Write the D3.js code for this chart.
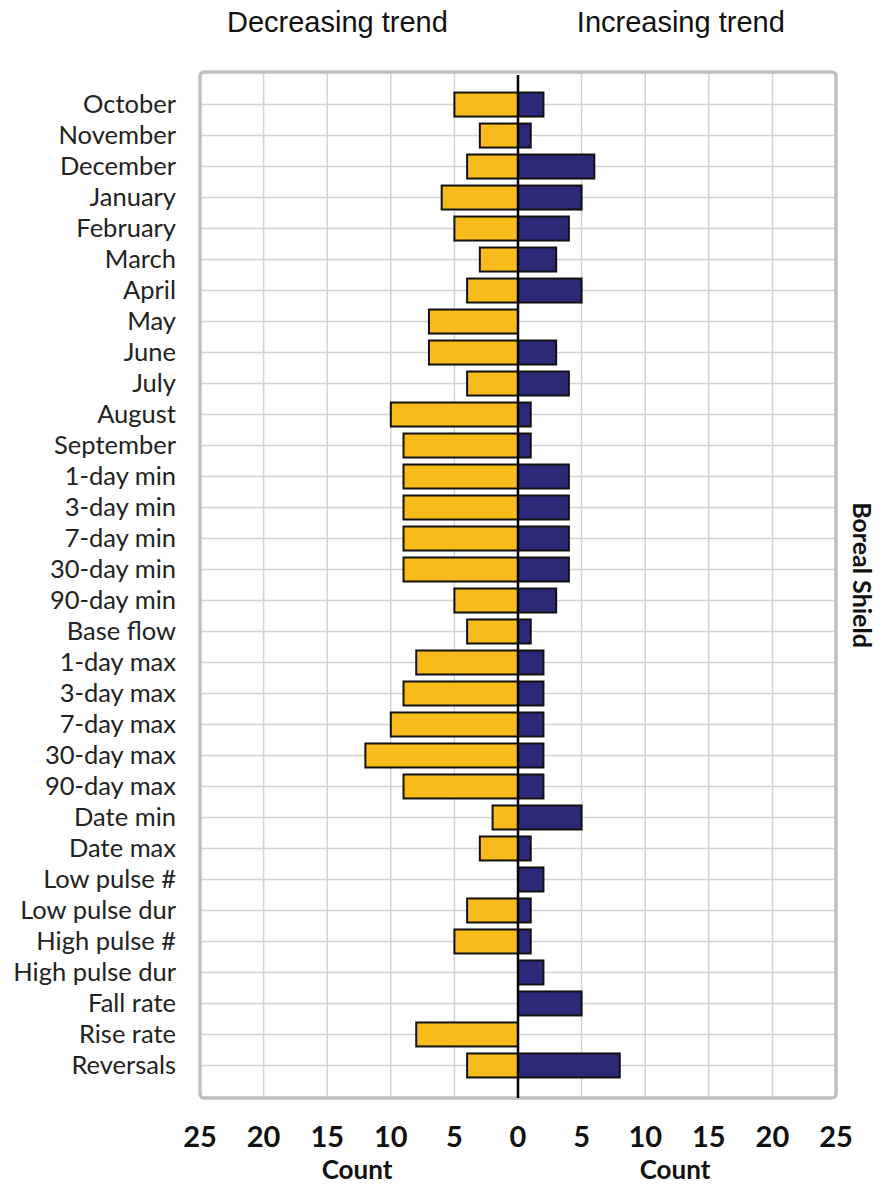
<!DOCTYPE html>
<html>
<head>
<meta charset="utf-8">
<script src="https://cdn.jsdelivr.net/npm/d3@7"></script>
<style>
  body { margin: 0; background: #fff; }
  svg { display: block; }
</style>
</head>
<body>
<svg id="chart" width="882" height="1187"></svg>
<script>
const categories = [
  "October", "November", "December", "January", "February", "March", "April",
  "May", "June", "July", "August", "September",
  "1-day min", "3-day min", "7-day min", "30-day min", "90-day min", "Base flow",
  "1-day max", "3-day max", "7-day max", "30-day max", "90-day max",
  "Date min", "Date max", "Low pulse #", "Low pulse dur", "High pulse #",
  "High pulse dur", "Fall rate", "Rise rate", "Reversals"
];
const decreasing = [5, 3, 4, 6, 5, 3, 4, 7, 7, 4, 10, 9, 9, 9, 9, 9, 5, 4, 8, 9, 10, 12, 9, 2, 3, 0, 4, 5, 0, 0, 8, 4];
const increasing = [2, 1, 6, 5, 4, 3, 5, 0, 3, 4, 1, 1, 4, 4, 4, 4, 3, 1, 2, 2, 2, 2, 2, 5, 1, 2, 1, 1, 2, 5, 0, 8];
const tickValues = [-25, -20, -15, -10, -5, 0, 5, 10, 15, 20, 25];

const svg = d3.select("#chart");
const plotL = 200, plotR = 836, plotT = 72, plotB = 1098;

const x = d3.scaleLinear().domain([-25, 25]).range([plotL, plotR]);
const y = d3.scalePoint().domain(categories).range([plotT, plotB]).padding(1.05);
const barH = 24;

// gridlines
const grid = svg.append("g").attr("stroke", "#d3d3d3").attr("stroke-width", 1.5);
grid.selectAll("line.v")
  .data(tickValues.filter(d => d !== 0 && Math.abs(d) !== 25))
  .join("line")
  .attr("x1", d => x(d)).attr("x2", d => x(d))
  .attr("y1", plotT).attr("y2", plotB);
grid.selectAll("line.h")
  .data(categories)
  .join("line")
  .attr("x1", plotL).attr("x2", plotR)
  .attr("y1", d => y(d)).attr("y2", d => y(d));

// frame
svg.append("rect")
  .attr("x", plotL).attr("y", plotT)
  .attr("width", plotR - plotL).attr("height", plotB - plotT)
  .attr("rx", 4)
  .attr("fill", "none")
  .attr("stroke", "#bfbfbf")
  .attr("stroke-width", 3.5);

// bars
const rows = categories.map((c, i) => ({ c, dec: decreasing[i], inc: increasing[i] }));
svg.append("g").selectAll("rect")
  .data(rows.filter(d => d.dec > 0))
  .join("rect")
  .attr("x", d => x(-d.dec)).attr("width", d => x(0) - x(-d.dec))
  .attr("y", d => y(d.c) - barH / 2).attr("height", barH)
  .attr("fill", "#f8bb1c").attr("stroke", "#111").attr("stroke-width", 2);
svg.append("g").selectAll("rect")
  .data(rows.filter(d => d.inc > 0))
  .join("rect")
  .attr("x", x(0)).attr("width", d => x(d.inc) - x(0))
  .attr("y", d => y(d.c) - barH / 2).attr("height", barH)
  .attr("fill", "#2c2a78").attr("stroke", "#111").attr("stroke-width", 2);

// zero line
svg.append("line")
  .attr("x1", x(0)).attr("x2", x(0))
  .attr("y1", plotT + 3).attr("y2", plotB)
  .attr("stroke", "#000").attr("stroke-width", 2.5);

// category labels
svg.append("g").selectAll("text")
  .data(categories)
  .join("text")
  .attr("x", 176).attr("y", d => y(d))
  .attr("dy", "0.35em")
  .attr("text-anchor", "end")
  .attr("font-family", "Lato, Open Sans, sans-serif")
  .attr("font-size", 25.5)
  .attr("fill", "#222")
  .text(d => d);

// x tick labels
svg.append("g").selectAll("text")
  .data(tickValues)
  .join("text")
  .attr("x", d => x(d)).attr("y", 1147)
  .attr("text-anchor", "middle")
  .attr("font-family", "Lato, Open Sans, sans-serif")
  .attr("font-weight", "bold")
  .attr("font-size", 29)
  .attr("fill", "#111")
  .text(d => Math.abs(d));

// axis titles
svg.selectAll("text.count")
  .data([-12.5, 12.5])
  .join("text")
  .attr("class", "count")
  .attr("x", d => x(d) - 2).attr("y", 1179)
  .attr("text-anchor", "middle")
  .attr("font-family", "Lato, Open Sans, sans-serif")
  .attr("font-weight", "bold")
  .attr("font-size", 26)
  .attr("fill", "#111")
  .text("Count");

// trend headings
svg.selectAll("text.trend")
  .data([{ v: -14.2, t: "Decreasing trend" }, { v: 12.8, t: "Increasing trend" }])
  .join("text")
  .attr("class", "trend")
  .attr("x", d => x(d.v)).attr("y", 32)
  .attr("text-anchor", "middle")
  .attr("font-family", "Liberation Sans, Arial, sans-serif")
  .attr("font-size", 29)
  .attr("fill", "#111")
  .text(d => d.t);

// region label
svg.append("text")
  .attr("transform", `translate(853, ${(plotT + plotB) / 2 - 10}) rotate(90)`)
  .attr("text-anchor", "middle")
  .attr("font-family", "Lato, Open Sans, sans-serif")
  .attr("font-weight", "bold")
  .attr("font-size", 25)
  .attr("fill", "#111")
  .text("Boreal Shield");
</script>
</body>
</html>
